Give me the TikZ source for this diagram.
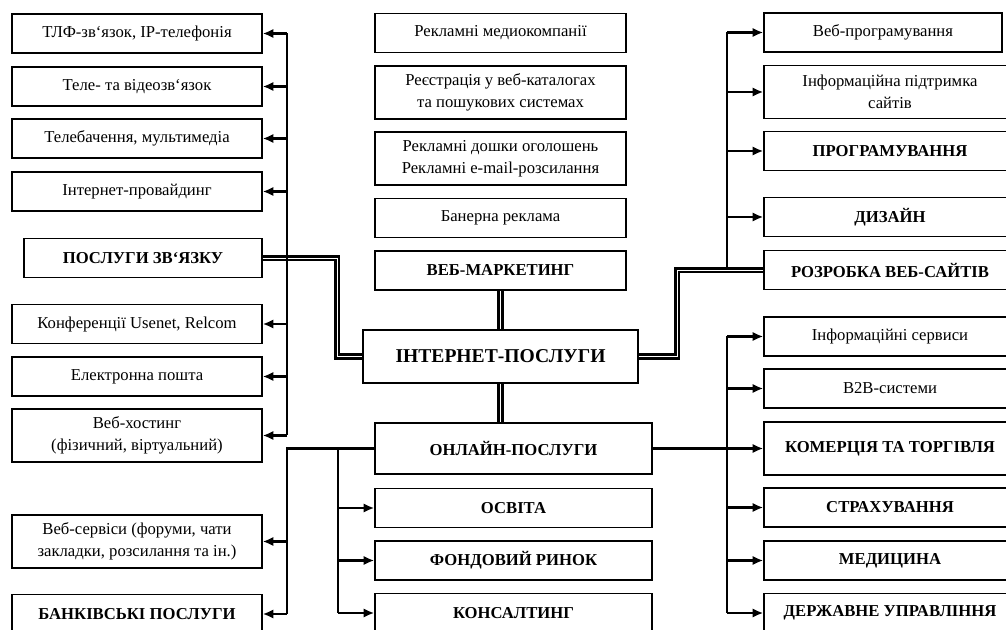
\documentclass[tikz,border=0pt]{standalone}
\usepackage{fontspec}
\setmainfont{Liberation Serif}
\usetikzlibrary{arrows.meta,calc}

\begin{document}
\begin{tikzpicture}
	[   x=0.75pt, y=-0.75pt,
	    sbox/.style={draw=black,line width=1.1pt,minimum width=#1,minimum height=29.5pt,align=center,inner sep=1pt,font=\fontsize{12.5}{16.5}\selectfont},
	    sbox/.default=187.5pt,
	    tall/.style={minimum height=39.5pt},
	    bold/.style={font=\fontsize{12.5}{16.5}\selectfont\bfseries},
	]
	\tikzset{normal arrow/.style={draw,line width=1.6pt,-{Latex[length=8pt,width=7pt]}}}
	\tikzset{bus line/.style={draw,line width=1.6pt}}
	\tikzset{main line/.style={draw,line width=2.3pt,double,double distance=0.4pt}}
	\clip (0,0) rectangle (1006,630);
	
	% left column
	\node[sbox] (tlf) at (137,33.5) {ТЛФ-зв‘язок, IP-телефонія};
	\node[sbox] (tele) at (137,86.5) {Теле- та відеозв‘язок};
	\node[sbox] (tv) at (137,138.5) {Телебачення, мультимедіа};
	\node[sbox] (isp) at (137,191.5) {Інтернет-провайдинг};
	\node[sbox=178.5pt,bold] (zv) at (143,258) {ПОСЛУГИ ЗВ‘ЯЗКУ};
	\node[sbox] (conf) at (137,324) {Конференції Usenet, Relcom};
	\node[sbox] (mail) at (137,376.5) {Електронна пошта};
	\node[sbox,tall] (host) at (137,435.5) {Веб-хостинг\\(фізичний, віртуальний)};
	\node[sbox,tall] (websrv) at (137,541.5) {Веб-сервіси (форуми, чати\\закладки, розсилання та ін.)};
	\node[sbox,bold] (bank) at (137,614) {БАНКІВСЬКІ ПОСЛУГИ};
	
	% centre column
	\node[sbox=188.25pt] (adv) at (500.5,33) {Рекламні медиокомпанії};
	\node[sbox=188.25pt,tall] (reg) at (500.5,92.5) {Реєстрація у веб-каталогах\\та пошукових системах};
	\node[sbox=188.25pt,tall] (board) at (500.5,158.5) {Рекламні дошки оголошень\\Рекламні e-mail-розсилання};
	\node[sbox=188.25pt] (banner) at (500.5,218) {Банерна реклама};
	\node[sbox=188.25pt,bold] (wm) at (500.5,270.5) {ВЕБ-МАРКЕТИНГ};
	\node[sbox=206.25pt,tall,font=\fontsize{14.7}{17}\selectfont\bfseries] (inet) at (500.5,356.5) {ІНТЕРНЕТ-ПОСЛУГИ};
	\node[sbox=207.75pt,bold,minimum height=38pt] (onl) at (513.5,448.5) {ОНЛАЙН-ПОСЛУГИ};
	\node[sbox=207.75pt,bold] (edu) at (513.5,508) {ОСВІТА};
	\node[sbox=207.75pt,bold] (stock) at (513.5,560.5) {ФОНДОВИЙ РИНОК};
	\node[sbox=207.75pt,bold] (cons) at (513.5,613) {КОНСАЛТИНГ};
	
	% right column
	\node[sbox=178.5pt] (webprog) at (883,32.5) {Веб-програмування};
	\node[sbox=189pt,tall] (info) at (890,92) {Інформаційна підтримка\\сайтів};
	\node[sbox=189pt,bold] (prog) at (890,151) {ПРОГРАМУВАННЯ};
	\node[sbox=189pt,bold] (design) at (890,217) {ДИЗАЙН};
	\node[sbox=189pt,bold] (dev) at (890,270) {РОЗРОБКА ВЕБ-САЙТІВ};
	\node[sbox=189pt] (isrv) at (890,336.5) {Інформаційні сервиси};
	\node[sbox=189pt] (btob) at (890,388.5) {B2B-системи};
	\node[sbox=189pt,bold,tall] (trade) at (890,448.5) {КОМЕРЦІЯ ТА ТОРГІВЛЯ};
	\node[sbox=189pt,bold] (insur) at (890,507.5) {СТРАХУВАННЯ};
	\node[sbox=189pt,bold] (med) at (890,560.5) {МЕДИЦИНА};
	\node[sbox=189pt,bold] (gov) at (890,613) {ДЕРЖАВНЕ УПРАВЛІННЯ};
	
	\coordinate (lbus) at (287,0);
	\coordinate (ibus) at (338,0);
	\coordinate (rbus) at (727,0);
	\coordinate (kl) at (337,356.5);
	\coordinate (kr) at (677,356.5);
	
	% main links
	\path[main line] (zv.east) -| (kl) -- (inet.west);
	\path[main line] (inet.east) -- (kr) |- (dev.west);
	\path[main line] (wm.south) -- (inet.north);
	\path[main line] (inet.south) -- (inet.south |- onl.north);
	
	% branches
	\path[bus line] (lbus |- tlf.east) -- (lbus |- host.east);
	\foreach \n in {tlf,tele,tv,isp,conf,mail,host}
		\path[normal arrow] (lbus |- \n.east) -- (\n.east);
	\path[bus line] (onl.west) -| (lbus |- bank.east);
	\foreach \n in {websrv,bank}
		\path[normal arrow] (lbus |- \n.east) -- (\n.east);
	\path[bus line] (ibus |- onl.west) -- (ibus |- cons.west);
	\foreach \n in {edu,stock,cons}
		\path[normal arrow] (ibus |- \n.west) -- (\n.west);
	\path[bus line] (rbus |- webprog.west) -- (rbus |- dev.west);
	\foreach \n in {webprog,info,prog,design}
		\path[normal arrow] (rbus |- \n.west) -- (\n.west);
	\path[normal arrow] (onl.east) -- (trade.west);
	\path[bus line] (rbus |- isrv.west) -- (rbus |- gov.west);
	\foreach \n in {isrv,btob,insur,med,gov}
		\path[normal arrow] (rbus |- \n.west) -- (\n.west);
\end{tikzpicture}
\end{document}
